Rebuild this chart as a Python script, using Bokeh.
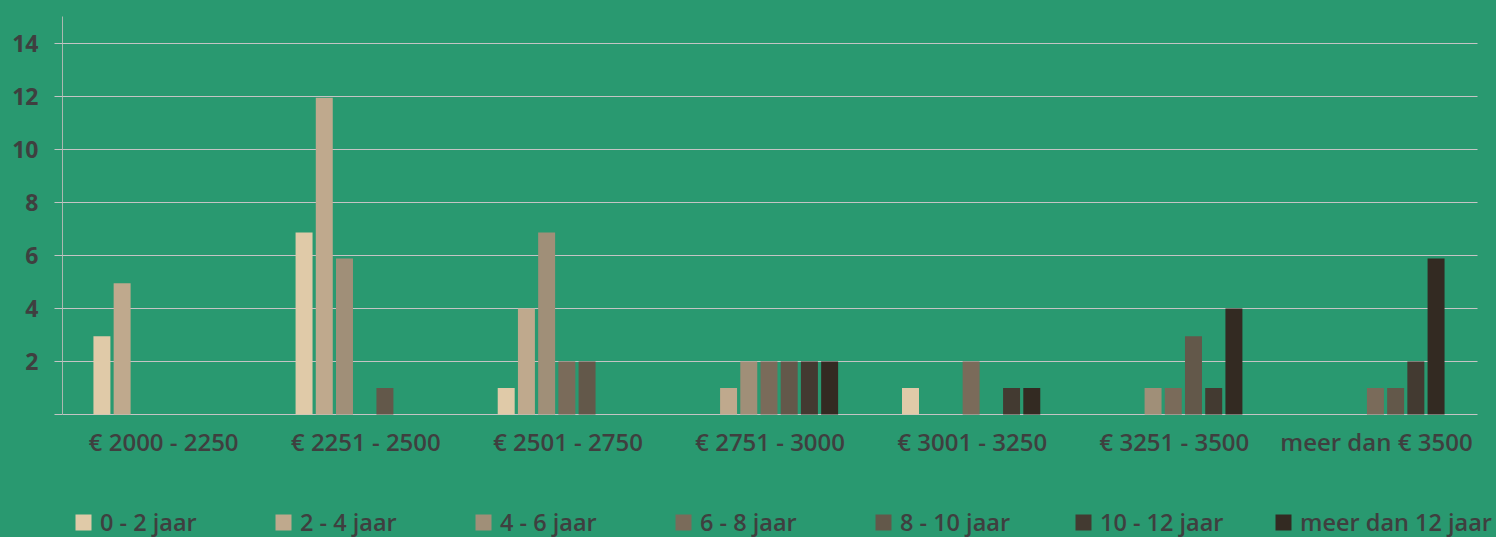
from bokeh.plotting import figure
from bokeh.models import ColumnDataSource, Range1d, Legend, LegendItem, FixedTicker
from bokeh.core.properties import value
from bokeh.transform import dodge
from bokeh.embed import file_html
from bokeh.resources import INLINE

categories = ["€ 2000 - 2250", "€ 2251 - 2500", "€ 2501 - 2750", "€ 2751 - 3000",
              "€ 3001 - 3250", "€ 3251 - 3500", "meer dan € 3500"]
series_names = ["0 - 2 jaar", "2 - 4 jaar", "4 - 6 jaar", "6 - 8 jaar",
                "8 - 10 jaar", "10 - 12 jaar", "meer dan 12 jaar"]
s0 = [2.95, 6.87, 1, 0, 1, 0, 0]
s1 = [4.95, 11.95, 4, 1, 0, 0, 0]
s2 = [0, 5.89, 6.87, 2, 0, 1, 0]
s3 = [0, 0, 2, 2, 2, 1, 1]
s4 = [0, 1, 2, 2, 0, 2.95, 1]
s5 = [0, 0, 0, 2, 1, 1, 2]
s6 = [0, 0, 0, 2, 1, 4, 5.89]
colors = ["#e0caa8", "#bfa98d", "#a08f78", "#7a6b5a", "#63584a", "#433a31", "#332a22"]
y_ticks = [0, 2, 4, 6, 8, 10, 12, 14]

BG = "#299970"
TXT = "#3f3f3f"
GRID = "#c4c4c4"
FONT = "'Open Sans SemiBold', 'Open Sans'"

n = len(categories)
data = dict(cat=categories, xc=[i + 0.5 for i in range(n)])
series = [s0, s1, s2, s3, s4, s5, s6]
for i, s in enumerate(series):
    data["s%d" % i] = s
src = ColumnDataSource(data)

# plot area reaches the right edge so the last legend label is not clipped;
# the category slots still end 19px before it.
p = figure(x_range=Range1d(0, n * 1434 / 1415), y_range=Range1d(-4.6415, 15.02),
           width=1496, height=537, output_backend="svg", toolbar_location=None,
           x_axis_location=None,
           background_fill_color=None, border_fill_color=None, outline_line_color=None,
           styles={"background-color": BG},
           min_border_left=62, min_border_right=0, min_border_top=16, min_border_bottom=0)

renderers = []
for i in range(7):
    r = p.vbar(x=dodge("xc", (i - 3) * 0.1 - 0.005), top="s%d" % i,
               width=0.084, source=src, fill_color=colors[i], line_color=None)
    renderers.append(r)

# category labels under the baseline
p.text(x="xc", y=0, text="cat", source=src, y_offset=27,
       text_align="center", text_baseline="middle",
       text_font=value(FONT), text_font_size="24px", text_color=TXT)

p.xgrid.grid_line_color = None
p.ygrid.ticker = FixedTicker(ticks=y_ticks)
p.ygrid.grid_line_color = GRID
p.ygrid.grid_line_width = 1
p.ygrid.cross_bounds = (0, n)
p.yaxis.ticker = FixedTicker(ticks=y_ticks)
p.yaxis.major_label_overrides = {0: ""}
p.yaxis.bounds = (0, 15.02)
p.yaxis.axis_line_color = "#aab8b0"
p.yaxis.major_tick_line_color = GRID
p.yaxis.major_tick_out = 8
p.yaxis.major_tick_in = 0
p.yaxis.minor_tick_line_color = None
p.yaxis.major_label_text_font = "Open Sans"
p.yaxis.major_label_text_font_style = "bold"
p.yaxis.major_label_text_font_size = "23px"
p.yaxis.major_label_text_color = TXT
p.yaxis.major_label_standoff = 16

items = [LegendItem(label=series_names[i], renderers=[renderers[i]]) for i in range(7)]
legend = Legend(items=items, orientation="horizontal", location=(11, -1),
                background_fill_alpha=0, border_line_color=None,
                glyph_width=20, glyph_height=20, label_standoff=7, label_width=163,
                spacing=10, padding=0, margin=0,
                label_text_font=FONT, label_text_font_size="23.5px",
                label_text_color=TXT)
p.add_layout(legend, "center")

open("out.html", "w").write(file_html(p, INLINE))
